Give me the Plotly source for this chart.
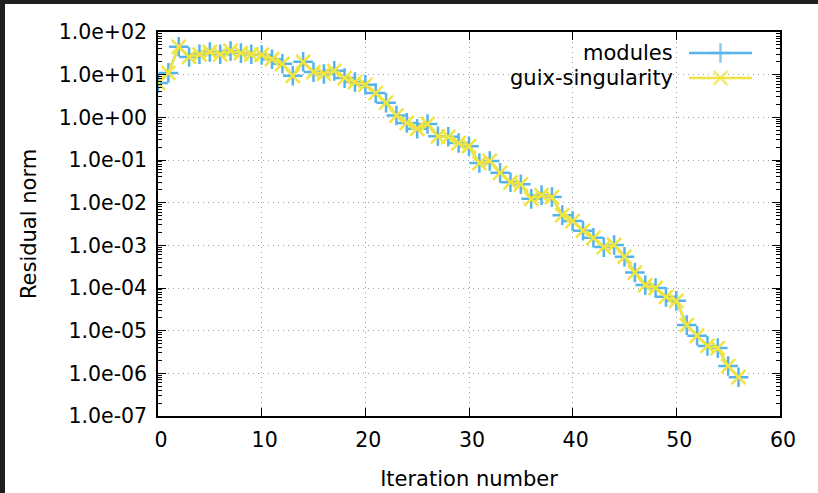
import plotly.graph_objects as go

iterations = list(range(57))
modules = [6.4, 11, 45, 26, 30, 34, 30, 36, 32, 30, 29,
           23, 18, 9.4, 20, 11.5, 10.4, 12.3, 8.3, 6.7, 5.8, 3.7, 2.2,
           1.1, 0.74, 0.54, 0.70, 0.36, 0.35, 0.25, 0.21, 0.085, 0.095, 0.050, 0.030,
           0.027, 0.0123, 0.015, 0.0135, 0.0051, 0.0037, 0.0022, 0.0015, 0.00091, 0.00102, 0.00054, 0.00023,
           0.000117, 0.0001, 0.000062, 0.00005, 1.35e-5, 7.6e-6, 4.4e-6, 3.9e-6, 1.48e-6, 8.1e-7]
guix_singularity = [6.4, 11, 45, 26, 30, 34, 30, 36, 32, 30, 29,
                    23, 18, 9.4, 20, 11.5, 10.4, 12.3, 8.3, 6.7, 5.8, 3.7, 2.2,
                    1.1, 0.74, 0.54, 0.70, 0.36, 0.35, 0.25, 0.21, 0.085, 0.095, 0.050, 0.030,
                    0.027, 0.0123, 0.015, 0.0135, 0.0051, 0.0037, 0.0022, 0.0015, 0.00091, 0.00102, 0.00054, 0.00023,
                    0.000117, 0.0001, 0.000062, 0.00005, 1.35e-5, 7.6e-6, 4.4e-6, 3.9e-6, 1.48e-6, 8.1e-7]
series_names = ["modules", "guix-singularity"]
y_tick_exps = list(range(-7, 3))
y_tick_labels = ["1.0e%+03d" % e for e in y_tick_exps]
x_ticks = [0, 10, 20, 30, 40, 50, 60]

BLUE = "#56B4E9"
YELLOW = "#F0E442"
FONT = "DejaVu Sans"
GRID = "#a0a0a0"

W, H = 818, 493
L, R, T, B = 158, 780, 32, 416
PW, PH = R - L, B - T


def px(x):
    return (x - L) / PW


def py(y):
    return (B - y) / PH


fig = go.Figure()
fig.add_trace(go.Scatter(x=iterations, y=modules, mode="lines+markers", name=series_names[0],
                         line=dict(color=BLUE, width=2.5),
                         marker=dict(symbol="cross-thin", size=14, line=dict(color=BLUE, width=2.5)),
                         showlegend=False))
fig.add_trace(go.Scatter(x=iterations, y=guix_singularity, mode="lines+markers", name=series_names[1],
                         line=dict(color=YELLOW, width=2.5),
                         marker=dict(symbol="x-thin", size=14, line=dict(color=YELLOW, width=2.5)),
                         showlegend=False))

# custom gnuplot-like legend (text left of sample)
leg_rows = [53, 78]
for name, color, sym, yy in [(series_names[0], BLUE, "cross-thin", leg_rows[0]),
                             (series_names[1], YELLOW, "x-thin", leg_rows[1])]:
    fig.add_trace(go.Scatter(x=[px(689), px(720.5), px(752)], y=[py(yy)] * 3, xaxis="x2", yaxis="y2",
                             mode="lines+markers", line=dict(color=color, width=2.5),
                             marker=dict(symbol=sym, size=[0, 14, 0], line=dict(color=color, width=2.5)),
                             showlegend=False, hoverinfo="skip", cliponaxis=False))
    fig.add_annotation(x=px(675), y=py(yy), xref="paper", yref="paper", text=name, showarrow=False,
                       xanchor="right", yanchor="middle", font=dict(family=FONT, size=21, color="black"))

minor_vals = [m * 10 ** e for e in range(-7, 2) for m in range(2, 10)]

fig.update_layout(
    width=W, height=H, margin=dict(l=L, r=W - R, t=T, b=H - B, autoexpand=False),
    paper_bgcolor="white", plot_bgcolor="white",
    font=dict(family=FONT, size=20, color="black"),
    xaxis=dict(range=[0, 60], tickvals=x_ticks, ticks="inside", ticklen=8, tickwidth=1, tickcolor="black",
               showline=True, linecolor="black", linewidth=1.5, mirror="ticks",
               showgrid=True, gridcolor=GRID, griddash="1px,4px", gridwidth=1, zeroline=False,
               ticklabelstandoff=5, ticklabelshift=3,
               title=dict(text="Iteration number", standoff=20, font=dict(family=FONT, size=21)),
               tickfont=dict(size=20.5)),
    yaxis=dict(type="log", range=[-7, 2], tickvals=[10 ** e for e in y_tick_exps], ticktext=y_tick_labels,
               ticks="inside", ticklen=8, tickwidth=1, tickcolor="black",
               showline=True, linecolor="black", linewidth=1.5, mirror="ticks",
               showgrid=True, gridcolor=GRID, griddash="1px,4px", gridwidth=1, zeroline=False,
               ticklabelstandoff=5,
               minor=dict(tickvals=minor_vals, ticks="inside", ticklen=4, tickcolor="black", showgrid=False),
               title=dict(text="Residual norm", standoff=16, font=dict(family=FONT, size=21)),
               tickfont=dict(size=20.5)),
    xaxis2=dict(range=[0, 1], overlaying="x", visible=False, fixedrange=True),
    yaxis2=dict(range=[0, 1], overlaying="y", visible=False, fixedrange=True),
    shapes=[
        dict(type="rect", xref="paper", yref="paper", x0=px(500), x1=px(766), y0=py(90), y1=py(41),
             fillcolor="white", line=dict(width=0), layer="between"),
        dict(type="rect", xref="paper", yref="paper", x0=px(0), x1=px(5), y0=py(H), y1=py(0),
             fillcolor="#1f1f1f", line=dict(width=0), layer="above"),
        dict(type="rect", xref="paper", yref="paper", x0=px(0), x1=px(W), y0=py(4), y1=py(0),
             fillcolor="#1f1f1f", line=dict(width=0), layer="above"),
    ],
)

fig.write_html("out.html")
